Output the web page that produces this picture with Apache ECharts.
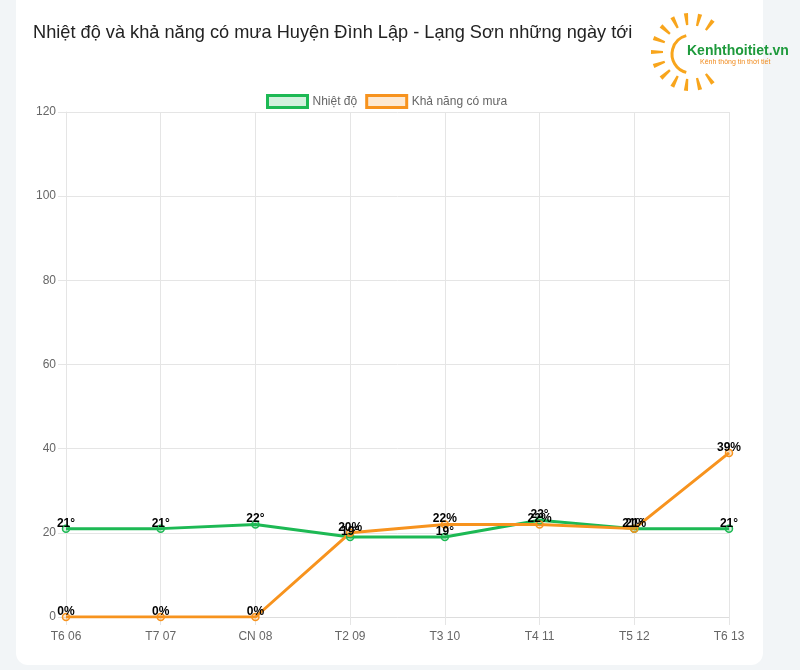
<!DOCTYPE html>
<html>
<head>
<meta charset="utf-8">
<script src="https://cdn.jsdelivr.net/npm/echarts@6/dist/echarts.min.js"></script>
<style>
html,body{margin:0;padding:0;background:#f2f5f7;}
#card{position:absolute;left:16px;top:-12px;width:747px;height:677px;background:#fff;border-radius:12px;}
#chart{position:absolute;left:0;top:0;width:800px;height:670px;}
</style>
</head>
<body>
<div id="card"></div>
<div id="chart"></div>
<script>
const categories = ['T6 06','T7 07','CN 08','T2 09','T3 10','T4 11','T5 12','T6 13'];
const temperature = [21,21,22,19,19,23,21,21];
const rainChance = [0,0,0,20,22,22,21,39];
const yTicks = {min:0, max:120, interval:20};

const FONT = '"Liberation Sans", Arial, sans-serif';
const GREEN = '#1db954';
const ORANGE = '#f7931e';

// logo decoration
const cx = 690, cy = 52;
const logo = [];
const rayAngles = [-54,-75,-96,-117,-138,-159,180,159,138,117,96,75,54];
rayAngles.forEach(a => {
  const r = a*Math.PI/180;
  const p = r + Math.PI/2;
  const ri = 27, ro = 39, wi = 1.1, wo = 2.1;
  const pt = (rad, w, s) => [cx + rad*Math.cos(r) + s*w*Math.cos(p), cy + rad*Math.sin(r) + s*w*Math.sin(p)];
  logo.push({type:'polygon', shape:{points:[pt(ri,wi,1), pt(ro,wo,1), pt(ro,wo,-1), pt(ri,wi,-1)]},
    style:{fill:'#f8a51c'}});
});
logo.push({type:'arc', shape:{cx:cx+1, cy:cy+2, r:19, startAngle:Math.PI*0.58, endAngle:Math.PI*1.42, clockwise:true},
  style:{stroke:'#f8a51c', lineWidth:3, fill:null}});
logo.push({type:'text', left:687, top:44, style:{text:'Kenhthoitiet.vn', fill:'#1e9a3c', font:'bold 14px "Liberation Sans", Arial, sans-serif'}});
logo.push({type:'text', left:700, top:59, style:{text:'Kênh thông tin thời tiết', fill:'#f08a1c', font:'7px "Liberation Sans", Arial, sans-serif'}});
logo.push({type:'text', left:33, top:24, style:{text:'Nhiệt độ và khả năng có mưa Huyện Đình Lập - Lạng Sơn những ngày tới', fill:'#222', font:'18.2px "Liberation Sans", Arial, sans-serif'}});

const chart = echarts.init(document.getElementById('chart'));
chart.setOption({
  animation:false,
  textStyle:{fontFamily:FONT},
  graphic: logo,
  legend:{
    top:89, left:261, itemWidth:40, itemHeight:12, itemGap:8,
    textStyle:{color:'#666', fontSize:12, fontFamily:FONT},
    data:[
      {name:'Nhiệt độ', icon:'rect', itemStyle:{color:'rgba(29,185,84,0.2)', borderColor:GREEN, borderWidth:3}},
      {name:'Khả năng có mưa', icon:'rect', itemStyle:{color:'rgba(247,147,30,0.2)', borderColor:ORANGE, borderWidth:3}}
    ]
  },
  grid:{left:66, right:71, top:112, bottom:53, containLabel:false},
  xAxis:{
    type:'category', data:categories, boundaryGap:false,
    axisLine:{show:true, lineStyle:{color:'#ddd'}},
    axisTick:{show:true, length:8, lineStyle:{color:'#e5e5e5'}},
    axisLabel:{color:'#666', fontSize:12, margin:14, fontFamily:FONT},
    splitLine:{show:true, lineStyle:{color:'#e5e5e5'}}
  },
  yAxis:{
    type:'value', min:yTicks.min, max:yTicks.max, interval:yTicks.interval,
    axisLine:{show:true, lineStyle:{color:'#e5e5e5'}},
    axisTick:{show:true, length:8, lineStyle:{color:'#e5e5e5'}},
    axisLabel:{color:'#666', fontSize:12, margin:10, fontFamily:FONT},
    splitLine:{show:true, lineStyle:{color:'#e5e5e5'}}
  },
  series:[
    {name:'Nhiệt độ', type:'line', data:temperature, symbol:'circle', symbolSize:7,
     itemStyle:{color:'rgba(29,185,84,0.2)', borderColor:GREEN, borderWidth:1.5},
     lineStyle:{color:GREEN, width:3},
     label:{show:true, position:'top', distance:0, offset:[0,5], formatter:'{c}°', color:'#000', fontWeight:'bold', fontSize:12, fontFamily:FONT}},
    {name:'Khả năng có mưa', type:'line', data:rainChance, symbol:'circle', symbolSize:7,
     itemStyle:{color:'rgba(247,147,30,0.2)', borderColor:ORANGE, borderWidth:1.5},
     lineStyle:{color:ORANGE, width:3},
     label:{show:true, position:'top', distance:0, offset:[0,5], formatter:'{c}%', color:'#000', fontWeight:'bold', fontSize:12, fontFamily:FONT}}
  ]
});
</script>
</body>
</html>
